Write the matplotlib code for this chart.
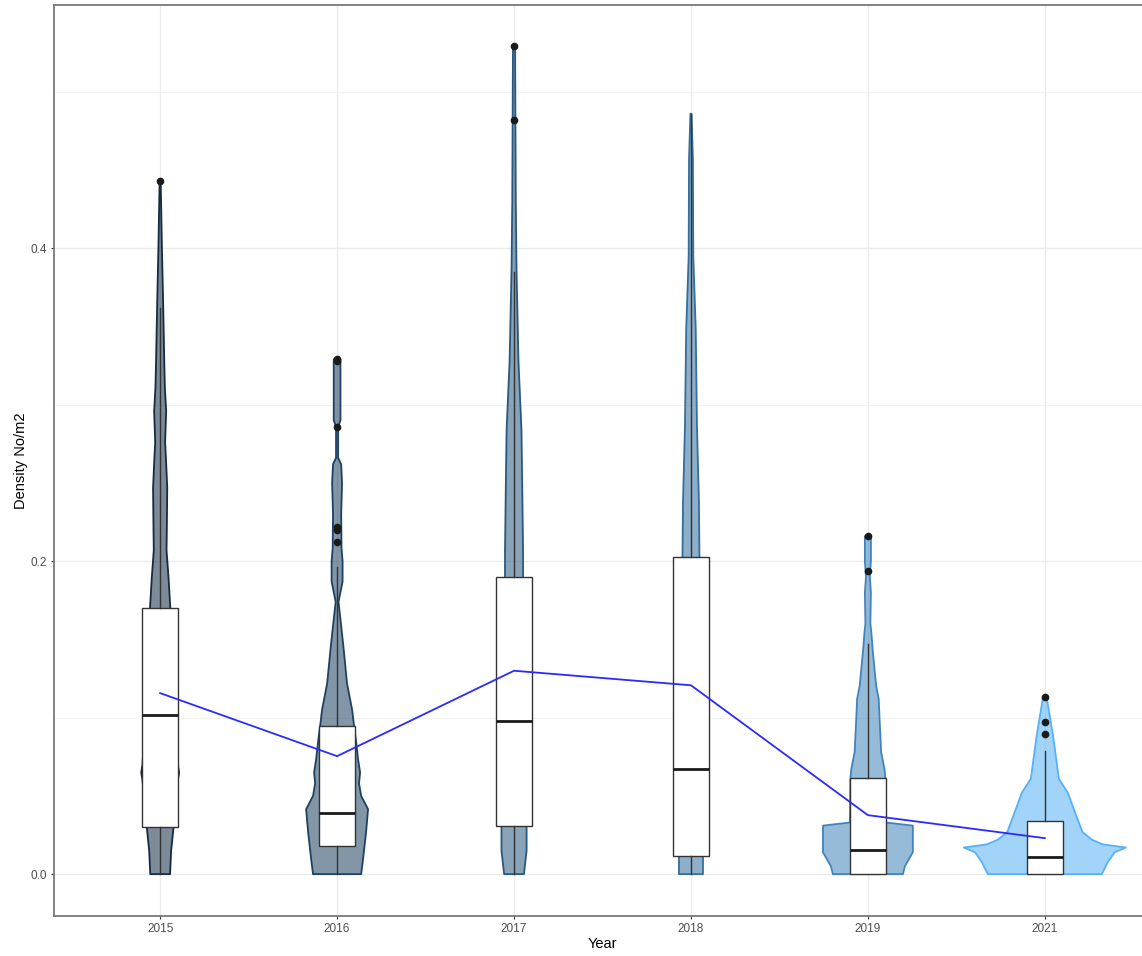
import numpy as np
import matplotlib.pyplot as plt
from matplotlib.colors import to_hex

plt.rcParams['font.family'] = ['Liberation Sans', 'DejaVu Sans']

years = ['2015', '2016', '2017', '2018', '2019', '2021']
year_num = [2015, 2016, 2017, 2018, 2019, 2021]

# violin outlines: density value levels and half-widths (in category units)
violin_y = {
    '2015': [0, 0.015, 0.027, 0.045, 0.06, 0.065, 0.07, 0.09, 0.12, 0.15, 0.171, 0.19, 0.207,
             0.224, 0.247, 0.265, 0.276, 0.296, 0.31, 0.323, 0.364, 0.40, 0.443],
    '2016': [0, 0.01, 0.027, 0.0415, 0.05, 0.058, 0.065, 0.073, 0.085, 0.0946, 0.105, 0.122,
             0.144, 0.165, 0.174, 0.187, 0.2, 0.208, 0.23, 0.25, 0.262, 0.266, 0.286, 0.29,
             0.329, 0.330],
    '2017': [0, 0.015, 0.031, 0.06, 0.19, 0.206, 0.243, 0.284, 0.328, 0.387, 0.43, 0.48, 0.529],
    '2018': [0, 0.011, 0.05, 0.2026, 0.238, 0.286, 0.348, 0.395, 0.457, 0.486],
    '2019': [0, 0.005, 0.014, 0.031, 0.033, 0.0613, 0.067, 0.078, 0.099, 0.112, 0.12, 0.142,
             0.155, 0.16, 0.18, 0.19, 0.2, 0.216],
    '2021': [0, 0.0077, 0.014, 0.017, 0.019, 0.022, 0.027, 0.040, 0.052, 0.061, 0.078, 0.088,
             0.107, 0.113],
}
violin_w = {
    '2015': [0.056, 0.062, 0.073, 0.088, 0.1, 0.107, 0.1, 0.09, 0.08, 0.068, 0.057, 0.047, 0.036,
             0.038, 0.040, 0.033, 0.028, 0.034, 0.027, 0.024, 0.017, 0.010, 0.003],
    '2016': [0.136, 0.147, 0.164, 0.175, 0.136, 0.124, 0.130, 0.119, 0.107, 0.096, 0.085, 0.056,
             0.037, 0.017, 0.008, 0.031, 0.031, 0.025, 0.023, 0.028, 0.023, 0.006, 0.006, 0.019,
             0.019, 0.002],
    '2017': [0.056, 0.071, 0.071, 0.062, 0.051, 0.051, 0.047, 0.042, 0.025, 0.014, 0.010, 0.008, 0.006],
    '2018': [0.068, 0.068, 0.062, 0.048, 0.045, 0.034, 0.027, 0.013, 0.011, 0.003],
    '2019': [0.198, 0.209, 0.254, 0.254, 0.102, 0.099, 0.094, 0.075, 0.066, 0.061, 0.047, 0.028,
             0.019, 0.014, 0.017, 0.011, 0.017, 0.017],
    '2021': [0.322, 0.356, 0.395, 0.458, 0.328, 0.266, 0.212, 0.169, 0.130, 0.079, 0.059, 0.047,
             0.019, 0.011],
}

# boxplot summaries
q1 = [0.030, 0.018, 0.031, 0.0115, 0.0, 0.0]
med = [0.102, 0.039, 0.098, 0.067, 0.0153, 0.0108]
q3 = [0.170, 0.0946, 0.190, 0.2026, 0.0613, 0.034]
whis_lo = [0.0, 0.0, 0.0, 0.0, 0.0, 0.0]
whis_hi = [0.362, 0.196, 0.385, 0.486, 0.147, 0.0788]
outliers = [
    [0.443],
    [0.212, 0.220, 0.222, 0.286, 0.328, 0.329],
    [0.482, 0.529],
    [],
    [0.194, 0.216],
    [0.0897, 0.0975, 0.1133],
]
means = [0.1157, 0.0754, 0.130, 0.1207, 0.0377, 0.023]

low = np.array([19, 43, 67]) / 255
high = np.array([86, 177, 247]) / 255

fig = plt.figure(figsize=(11.42, 9.56), dpi=100)
ax = fig.add_axes([54 / 1142, 40.4 / 956, 1097 / 1142, 910.6 / 956])

pos = np.arange(1, len(years) + 1)

for i, yr in enumerate(years):
    t = (year_num[i] - 2015) / 6
    col = to_hex(low + t * (high - low))
    y = np.array(violin_y[yr])
    w = np.array(violin_w[yr])
    ax.fill_betweenx(y, pos[i] - w, pos[i] + w, facecolor=col, alpha=0.55,
                     edgecolor='none', zorder=2)
    ax.fill_betweenx(y, pos[i] - w, pos[i] + w, facecolor='none',
                     edgecolor=col, linewidth=1.3, zorder=2)

stats = []
for i, yr in enumerate(years):
    stats.append({'whislo': whis_lo[i], 'q1': q1[i], 'med': med[i], 'q3': q3[i],
                  'whishi': whis_hi[i], 'fliers': outliers[i]})
ax.bxp(stats, positions=pos, widths=0.2, patch_artist=True, showcaps=False,
       boxprops=dict(facecolor='white', edgecolor='#333333', linewidth=1.0),
       medianprops=dict(color='#1a1a1a', linewidth=2.0),
       whiskerprops=dict(color='#333333', linewidth=1.0),
       flierprops=dict(marker='o', markersize=4.5, markerfacecolor='#1a1a1a',
                       markeredgecolor='#1a1a1a'),
       zorder=3)

ax.plot(pos, means, color='#2a2aff', linewidth=1.3, zorder=4)

ax.set_xlim(0.4, 6.6)
ax.set_ylim(-0.0265, 0.5555)
ax.set_xticks(pos)
ax.set_xticklabels(years)
ax.set_yticks([0.0, 0.2, 0.4])
ax.set_yticklabels(['0.0', '0.2', '0.4'])
ax.set_yticks([0.1, 0.3, 0.5], minor=True)
ax.tick_params(axis='both', which='major', length=2.5, width=0.8, color='#333333',
               labelsize=8.5, labelcolor='#4D4D4D', pad=2.5)
ax.tick_params(axis='y', which='minor', length=0)

ax.grid(True, which='major', color='#EBEBEB', linewidth=1.0, zorder=0)
ax.grid(True, which='minor', axis='y', color='#F2F2F2', linewidth=0.7, zorder=0)
ax.set_axisbelow(True)

for sp in ax.spines.values():
    sp.set_color('#7a7a7a')
    sp.set_linewidth(1.3)

ax.set_xlabel('Year', fontsize=10.5, labelpad=2)
ax.set_ylabel('Density No/m2', fontsize=10.5, labelpad=2)

fig.savefig('out.png', dpi=100)
